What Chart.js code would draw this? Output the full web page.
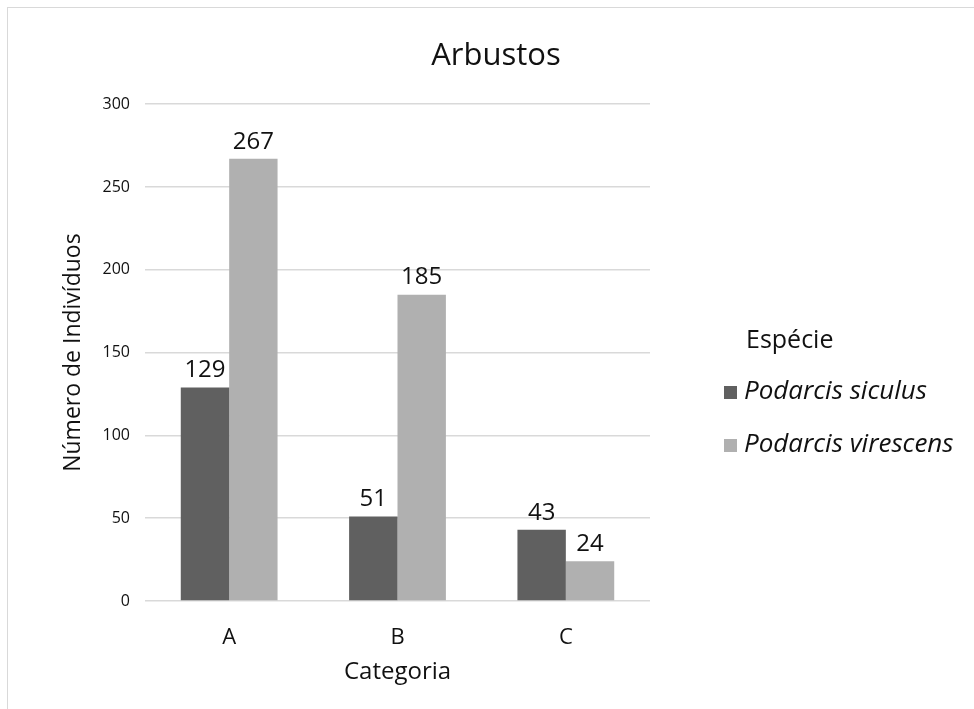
<!DOCTYPE html>
<html>
<head>
<meta charset="utf-8">
<script src="https://cdn.jsdelivr.net/npm/chart.js@4.4.0/dist/chart.umd.min.js"></script>
<style>
  body { margin: 0; background: #fff; overflow: hidden; }
  #box {
    position: absolute; left: 7px; top: 7px;
    width: 966px; height: 701px;
    border-top: 1px solid #d9d9d9; border-left: 1px solid #d9d9d9;
  }
</style>
</head>
<body>
<div id="box"><canvas id="myChart" width="966" height="701"></canvas></div>
<script>
const categories = ["A", "B", "C"];
const siculus = [129, 51, 43];
const virescens = [267, 185, 24];
const yTicks = [0, 50, 100, 150, 200, 250, 300];

const FONT = "'Open Sans', sans-serif";
const TEXT = "#111";

// value labels above each bar
const barLabels = {
  id: "barLabels",
  afterDatasetsDraw(chart) {
    const ctx = chart.ctx;
    ctx.save();
    ctx.font = "24px " + FONT;
    ctx.fillStyle = TEXT;
    ctx.textAlign = "center";
    ctx.textBaseline = "bottom";
    chart.data.datasets.forEach((ds, i) => {
      chart.getDatasetMeta(i).data.forEach((bar, j) => {
        ctx.fillText(ds.data[j], bar.x, bar.y - 5);
      });
    });
    ctx.restore();
  },
};

// legend on the right with a title
const sideLegend = {
  id: "sideLegend",
  afterDraw(chart) {
    const ctx = chart.ctx;
    ctx.save();
    ctx.fillStyle = TEXT;
    ctx.textBaseline = "middle";
    ctx.textAlign = "left";
    ctx.font = "25px " + FONT;
    ctx.fillText("Espécie", 738, 333);
    ctx.font = "italic 26px " + FONT;
    chart.data.datasets.forEach((ds, i) => {
      const y = 384 + i * 53;
      ctx.fillStyle = ds.backgroundColor;
      ctx.fillRect(716, y - 6, 13, 13);
      ctx.fillStyle = TEXT;
      ctx.fillText(ds.label, 736, y);
    });
    ctx.restore();
  },
};

new Chart(document.getElementById("myChart").getContext("2d"), {
  type: "bar",
  data: {
    labels: categories,
    datasets: [
      { label: "Podarcis siculus", data: siculus, backgroundColor: "#606060" },
      { label: "Podarcis virescens", data: virescens, backgroundColor: "#b0b0b0" },
    ],
  },
  options: {
    responsive: false,
    animation: false,
    layout: { padding: { left: 10, right: 0, top: 0, bottom: 0 } },
    datasets: { bar: { barPercentage: 1, categoryPercentage: 0.575 } },
    plugins: {
      legend: { display: false },
      tooltip: { enabled: false },
      title: {
        display: true,
        text: "Arbustos",
        color: TEXT,
        font: { family: FONT, size: 31, weight: "normal" },
        padding: { top: 30, bottom: 29 },
      },
    },
    scales: {
      x: {
        grid: { display: false },
        border: { display: false },
        ticks: { color: TEXT, font: { family: FONT, size: 22 }, padding: 16 },
        title: {
          display: true,
          text: "Categoria",
          color: TEXT,
          font: { family: FONT, size: 24 },
          padding: { top: 22, bottom: 22 },
        },
        afterFit: (s) => { s.height = 108; },
      },
      y: {
        min: 0,
        max: 300,
        afterBuildTicks: (s) => { s.ticks = yTicks.map((v) => ({ value: v })); },
        grid: { color: "#d9d9d9", lineWidth: 1.5, drawTicks: false },
        border: { display: false },
        ticks: { color: TEXT, font: { family: FONT, size: 16 }, padding: 15 },
        title: {
          display: true,
          text: "Número de Indivíduos",
          color: TEXT,
          font: { family: FONT, size: 23 },
          padding: { top: 42, bottom: 42 },
        },
        afterFit: (s) => { s.width = 127; },
      },
      spacer: {
        position: "right",
        grid: { display: false },
        border: { display: false },
        ticks: { display: false },
        afterFit: (s) => { s.width = 324; },
      },
    },
  },
  plugins: [barLabels, sideLegend],
});
</script>
</body>
</html>
